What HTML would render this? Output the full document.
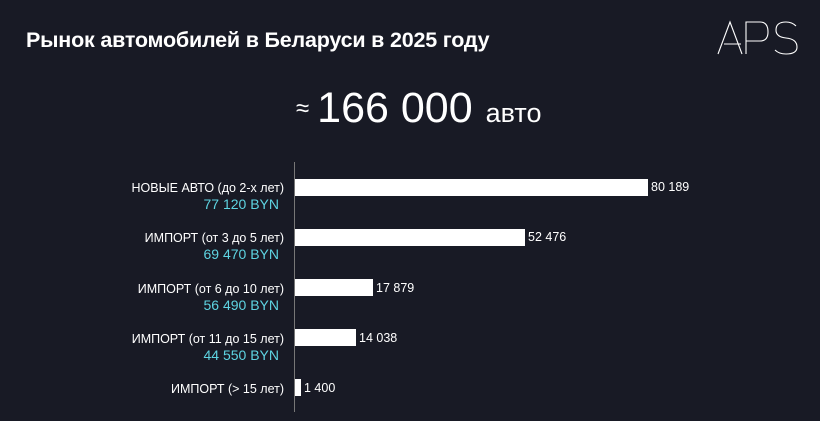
<!DOCTYPE html>
<html><head><meta charset="utf-8"><style>
body{margin:0;width:820px;height:421px;background:#181a25;overflow:hidden;font-family:"Liberation Sans",sans-serif;color:#fff;position:relative}
.t{position:absolute;left:26px;top:28px;font-size:21.5px;font-weight:bold;letter-spacing:-0.2px}
.big{position:absolute;left:296px;top:84px;white-space:nowrap}
.axis{position:absolute;left:294px;top:162px;width:1px;height:250px;background:#777}
.bar{position:absolute;left:295px;height:17px;background:#fff}
.v{position:absolute;font-size:12.5px}
.l{position:absolute;right:536px;text-align:right;font-size:12.5px;line-height:16px;white-space:nowrap}
.l span{color:#5ed4e2;font-size:14px;display:block;padding-right:5px}
</style></head><body>
<div class="t">Рынок автомобилей в Беларуси в 2025 году</div>
<svg style="position:absolute;left:716px;top:20px" width="84" height="36" fill="none" stroke="#fff" stroke-width="1.1">
<path d="M2 34 L14 2 L26 34"/><path d="M8 24 L25 24"/>
<path d="M30 34 L30 2 L44 2 Q52 2 52 12 Q52 21 44 21 L30 21"/>
<path d="M80 6 Q76 2 70 2 Q60 2 60 10 Q60 17 70 18 Q81 19 81 27 Q81 34 70 34 Q63 34 59 30"/>
</svg>
<div class="big"><span style="font-size:24px;vertical-align:6px">≈</span><span style="font-size:43px;margin-left:8px">166 000</span><span style="font-size:27px;margin-left:13px">авто</span></div>
<div class="axis"></div>
<div class="bar" style="top:179px;width:353px"></div><div class="v" style="left:651px;top:180px">80 189</div>
<div class="bar" style="top:229px;width:230px"></div><div class="v" style="left:528px;top:230px">52 476</div>
<div class="bar" style="top:279px;width:78px"></div><div class="v" style="left:376px;top:281px">17 879</div>
<div class="bar" style="top:329px;width:61px"></div><div class="v" style="left:359px;top:331px">14 038</div>
<div class="bar" style="top:379px;width:6px"></div><div class="v" style="left:304px;top:381px">1 400</div>
<div class="l" style="top:180px">НОВЫЕ АВТО (до 2-х лет)<span>77 120 BYN</span></div>
<div class="l" style="top:230px">ИМПОРТ (от 3 до 5 лет)<span>69 470 BYN</span></div>
<div class="l" style="top:281px">ИМПОРТ (от 6 до 10 лет)<span>56 490 BYN</span></div>
<div class="l" style="top:331px">ИМПОРТ (от 11 до 15 лет)<span>44 550 BYN</span></div>
<div class="l" style="top:381px">ИМПОРТ (&gt; 15 лет)</div>
</body></html>
